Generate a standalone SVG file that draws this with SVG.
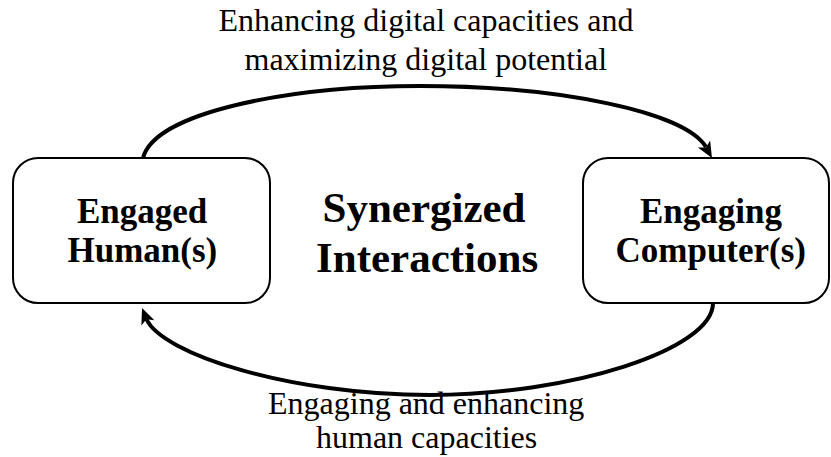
<svg xmlns="http://www.w3.org/2000/svg" width="831" height="457" viewBox="0 0 831 457">
  <rect width="831" height="457" fill="#ffffff"/>

  <!-- curved feedback connectors, arrowheads drawn as filled barbs -->
  <g id="connectors">
    <path d="M143,158 C155,112 290,86 420,86 C560,86 685,112 706,147" fill="none" stroke="#000" stroke-width="4"/>
    <polygon points="712,158 697.9,147.6 706,147.6 710.1,140.6" fill="#000"/>
    <path d="M713,303 C713,350 570,395 430,395 C290,395 162,354 146.4,319" fill="none" stroke="#000" stroke-width="4"/>
    <polygon points="142,308 154.4,320.3 146.4,319.2 141.4,325.5" fill="#000"/>
  </g>

  <g id="human">
    <rect x="13" y="158" width="257" height="145" rx="25" ry="25" fill="#fff" stroke="#000" stroke-width="2"/>
    <text x="77" y="223" font-family="Liberation Serif" font-weight="bold" font-size="35">Engaged</text>
    <text x="67.5" y="262" font-family="Liberation Serif" font-weight="bold" font-size="35">Human(s)</text>
  </g>

  <g id="computer">
    <rect x="583" y="158" width="246" height="145" rx="25" ry="25" fill="#fff" stroke="#000" stroke-width="2"/>
    <text x="640" y="223" font-family="Liberation Serif" font-weight="bold" font-size="35">Engaging</text>
    <text x="615.5" y="262" font-family="Liberation Serif" font-weight="bold" font-size="35">Computer(s)</text>
  </g>

  <g id="center">
    <text x="322.5" y="222" font-family="Liberation Serif" font-weight="bold" font-size="43">Synergized</text>
    <text x="316" y="272" font-family="Liberation Serif" font-weight="bold" font-size="43">Interactions</text>
  </g>

  <g id="labels">
    <text x="218.5" y="31" font-family="Liberation Serif" font-size="32">Enhancing digital capacities and</text>
    <text x="244.5" y="70" font-family="Liberation Serif" font-size="32">maximizing digital potential</text>
    <text x="268" y="414" font-family="Liberation Serif" font-size="32">Engaging and enhancing</text>
    <text x="316" y="448" font-family="Liberation Serif" font-size="32">human capacities</text>
  </g>
</svg>
